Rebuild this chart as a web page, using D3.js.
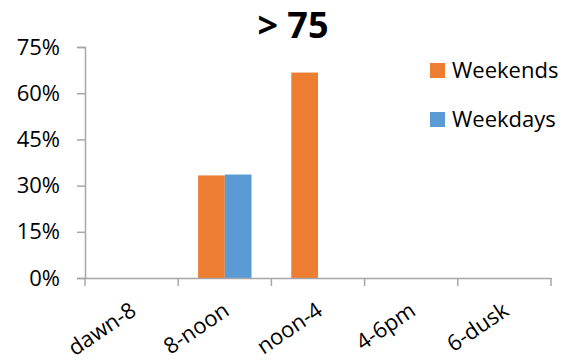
<!DOCTYPE html>
<html><head><meta charset="utf-8">
<script src="https://cdn.jsdelivr.net/npm/d3@7"></script>
<style>body{margin:0;background:#fff}svg{display:block;font-family:"Open Sans","Liberation Sans",sans-serif}</style>
</head><body><svg id="c" width="570" height="363"></svg>
<script>
const categories = ["dawn-8","8-noon","noon-4","4-6pm","6-dusk"];
const seriesNames = ["Weekends","Weekdays"];
const weekends = [0, 33.3, 66.7, 0, 0];
const weekdays = [0, 33.6, 0, 0, 0];
const yTicks = [0,15,30,45,60,75];
const colors = ["#ED7D31","#5B9BD5"];
const title = "> 75";

const FONT = "'Open Sans','Liberation Sans',sans-serif";
const svg = d3.select("#c");
const m = {l:85, r:19, t:47, b:85};
const W = 570, H = 363;
const x = d3.scaleBand().domain(categories).range([m.l, W-m.r]);
const y = d3.scaleLinear().domain([0,75]).range([H-m.b, m.t]);
const x1 = d3.scaleBand().domain(seriesNames).range([0, x.bandwidth()]).paddingOuter(0.745);
const axisColor = "#a6a6a6";

const data = categories.map((c,i)=>({c, v:[weekends[i], weekdays[i]]}));
svg.append("g").selectAll("g").data(data).join("g")
  .attr("transform", d=>`translate(${x(d.c)},0)`)
  .selectAll("rect").data(d=>d.v.map((v,j)=>({v,j}))).join("rect")
  .attr("x", d=>x1(seriesNames[d.j])).attr("width", x1.bandwidth())
  .attr("y", d=>y(d.v)).attr("height", d=>y(0)-y(d.v))
  .attr("fill", d=>colors[d.j]);

// y axis
const ya = svg.append("g").attr("transform",`translate(${m.l},0)`)
  .call(d3.axisLeft(y).tickValues(yTicks).tickFormat(d=>d+"%").tickSize(8).tickPadding(17));
ya.select(".domain").attr("stroke",axisColor).attr("stroke-width",1.5);
ya.selectAll(".tick line").attr("stroke",axisColor).attr("stroke-width",1.5);
ya.selectAll("text").attr("font-size",22).attr("fill","#000").style("font-family",FONT);

// x axis
const xa = svg.append("g").attr("transform",`translate(0,${y(0)})`)
  .call(d3.axisBottom(x).tickSizeOuter(0).tickSize(0).tickFormat(""));
xa.select(".domain").attr("stroke",axisColor).attr("stroke-width",1.5);
const bounds = categories.map(c=>x(c)).concat([x.range()[1]]);
svg.append("g").selectAll("line").data(bounds).join("line")
  .attr("x1",d=>d).attr("x2",d=>d).attr("y1",y(0)).attr("y2",y(0)+8)
  .attr("stroke",axisColor).attr("stroke-width",1.5);
svg.append("g").selectAll("text").data(categories).join("text")
  .attr("transform", d=>`translate(${x(d)+x.bandwidth()/2+6},${y(0)+36}) rotate(-34)`)
  .attr("text-anchor","end").attr("font-size",22).attr("fill","#000").text(d=>d);

// title
svg.append("text").attr("x",293).attr("y",38).attr("text-anchor","middle")
  .attr("font-size",36).attr("font-weight","bold").attr("fill","#000").text(title);

// legend
const lg = svg.append("g").selectAll("g").data(seriesNames).join("g")
  .attr("transform",(d,i)=>`translate(430,${63+i*49})`);
lg.append("rect").attr("width",15).attr("height",15).attr("fill",(d,i)=>colors[i]);
lg.append("text").attr("x",22).attr("y",15).attr("font-size",22).attr("fill","#000").text(d=>d);
</script></body></html>
